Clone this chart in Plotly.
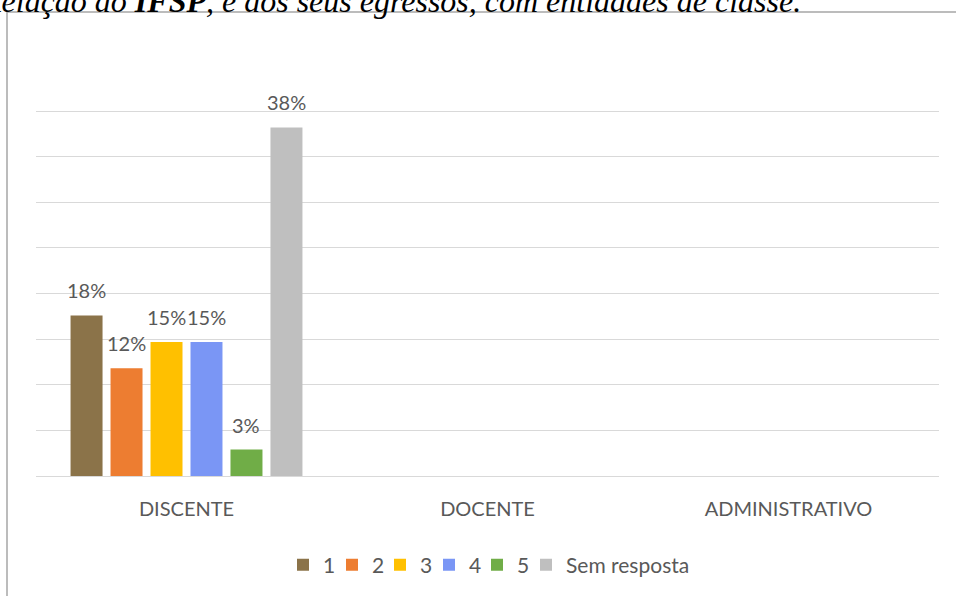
import plotly.graph_objects as go

# data (n = 34 answers, all in DISCENTE)
categorias = ["DISCENTE", "DOCENTE", "ADMINISTRATIVO"]
series = ["1", "2", "3", "4", "5", "Sem resposta"]
valores = {
    "1": [17.6, None, None],
    "2": [11.8, None, None],
    "3": [14.7, None, None],
    "4": [14.7, None, None],
    "5": [2.9, None, None],
    "Sem resposta": [38.2, None, None],
}
cores = ["#8B7349", "#ED7D31", "#FFC000", "#7A96F5", "#70AD47", "#BFBFBF"]

W, H = 956, 596
ml, mr, mt, mb = 36, 17, 65, 120
pw, ph = W - ml - mr, H - mt - mb
bargap = 0.203

# left edge of each legend swatch (px) - Excel packs them tighter than plotly
leg_x = [296, 345, 393, 442, 490, 539]

def px(x):
    return (x - ml) / pw

def py(y):
    return (H - mb - y) / ph

fig = go.Figure()
for k, (nome, cor) in enumerate(zip(series, cores)):
    fig.add_trace(go.Bar(
        name=nome, x=categorias, y=valores[nome],
        marker=dict(color=cor, line=dict(width=0)),
        legend="legend" if k == 0 else f"legend{k + 1}",
    ))

# value labels sit a bit higher than plotly's "outside" text, so use annotations
slot = (1 - bargap) / len(series)
labels = []
for i, nome in enumerate(series):
    for j, v in enumerate(valores[nome]):
        if v is None:
            continue
        labels.append(dict(
            x=j + (i - (len(series) - 1) / 2) * slot, y=v, xref="x", yref="y",
            text=f"{v:.0f}%", showarrow=False, yanchor="bottom", yshift=11,
            font=dict(family="Lato", size=20, color="#595959"),
        ))

leg_font = dict(family="Lato", size=21, color="#595959")
legends = {}
for k, x in enumerate(leg_x):
    legends["legend" if k == 0 else f"legend{k + 1}"] = dict(
        orientation="h", x=px(x - 13), xanchor="left",
        y=py(565), yanchor="middle", font=leg_font, itemclick=False,
        bgcolor="rgba(0,0,0,0)")

fig.update_layout(
    width=W, height=H,
    margin=dict(l=ml, r=mr, t=mt, b=mb, autoexpand=False),
    paper_bgcolor="white", plot_bgcolor="white",
    barmode="group", bargap=bargap, bargroupgap=0.2,
    font=dict(family="Lato", color="#595959"),
    showlegend=True,
    **legends,
    xaxis=dict(showgrid=False, showline=False, ticks="",
               tickfont=dict(family="Lato", size=20, color="#595959"),
               ticklabelstandoff=19),
    yaxis=dict(range=[0, 45.05], tick0=0, dtick=5, showgrid=True,
               gridcolor="#D9D9D9", gridwidth=1, zeroline=True,
               zerolinecolor="#D9D9D9", zerolinewidth=1,
               showticklabels=False, showline=False),
    shapes=[dict(type="rect", xref="paper", yref="paper",
                 x0=px(7), x1=px(W + 5), y0=py(H + 5), y1=py(12),
                 line=dict(color="#A6A6A6", width=1.5))],
    annotations=labels + [dict(
        text="<i>Relação do <b>IFSP</b>, e dos seus egressos, com entidades de classe.</i>",
        xref="paper", yref="paper", x=px(803), xanchor="right",
        y=py(21), yanchor="bottom", showarrow=False,
        font=dict(family="Liberation Serif", size=32, color="black"),
    )],
)

fig.write_html("out.html", config={"displayModeBar": False},
               post_script="document.body.style.margin='0';")
